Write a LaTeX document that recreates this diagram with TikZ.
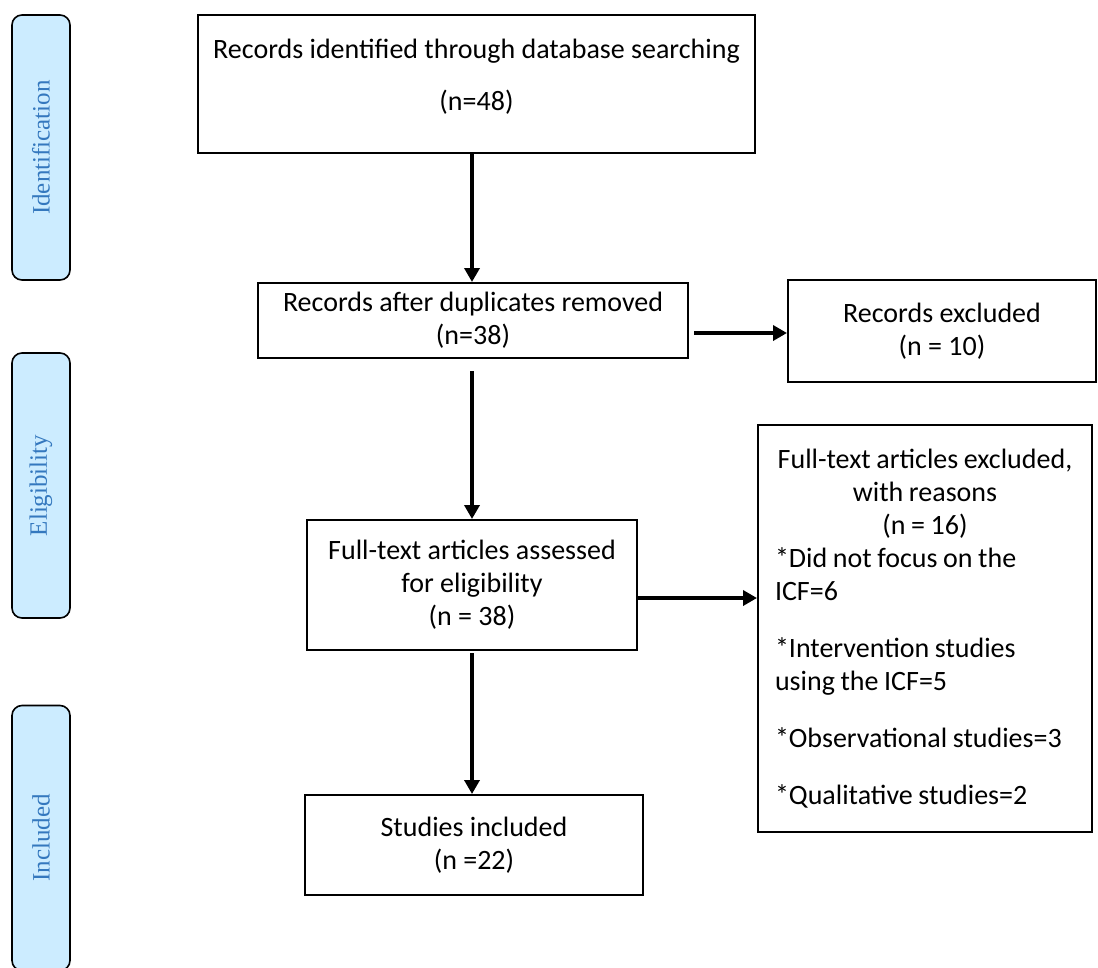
\documentclass[tikz,border=0pt]{standalone}
\usepackage{fontspec}
\setmainfont{Carlito}
\newfontfamily\barfont{Liberation Serif}
\usetikzlibrary{arrows.meta,calc}
\definecolor{barfill}{RGB}{204,236,255}
\definecolor{bartext}{RGB}{52,120,190}
\tikzset{
  flowbox/.style={draw=black, line width=2pt, align=center, inner sep=0pt,
    font=\fontsize{28}{33}\selectfont},
  phasebar/.style={draw=black, line width=1.6pt, fill=barfill, rounded corners=10pt,
    rotate=90, minimum width=265pt, minimum height=58pt, inner sep=0pt,
    text=bartext, font=\barfont\fontsize{25}{30}\selectfont},
  flowarrow/.style={line width=3.5pt, -{Triangle[width=15pt,length=14pt]}},
}
\begin{document}
\begin{tikzpicture}[x=1pt,y=-1pt]
\useasboundingbox (0,0) rectangle (1098,967);
% phase bars
\node[phasebar] (idbar) at (41,147.5) {Identification};
\node[phasebar] (elbar) at (41,485.5) {Eligibility};
\begin{scope}
  \clip (0,0) rectangle (1098,967);
  \node[phasebar] (inbar) at (41,838) {Included};
\end{scope}
% boxes
\node[flowbox, minimum width=557pt, minimum height=138pt] (box1) at (476.5,84)
  {Records identified through database searching\\[19pt](n=48)\\[-14pt]\mbox{}};
\node[flowbox, minimum width=430pt, minimum height=75pt] (box2) at (473,320.5)
  {Records after duplicates removed\\(n=38)};
\node[flowbox, minimum width=308pt, minimum height=102pt] (box3) at (942,331)
  {Records excluded\\(n = 10)};
\node[flowbox, minimum width=330pt, minimum height=130pt] (box5) at (472,585)
  {Full-text articles assessed\\for eligibility\\(n = 38)};
\node[flowbox, minimum width=334pt, minimum height=407pt, text width=300pt, align=left] (box4) at (925,628.5)
  {\spaceskip=5.6pt\relax\xspaceskip=5.6pt\relax
   \centering Full-text articles excluded,\\ with reasons\\ (n = 16)\par
   \raggedright
   *Did not focus on the\\ ICF=6\\[24pt]
   *Intervention studies\\ using the ICF=5\\[24pt]
   *Observational studies=3\\[24pt]
   *Qualitative studies=2\par};
\node[flowbox, minimum width=338pt, minimum height=100pt] (box6) at (474,845)
  {Studies included\\(n =22)};
% connectors
\draw[flowarrow] (box1.south -| box5.north) -- (box5.north |- box2.north);
\coordinate (a2) at ($(box2.east)+(5,12.5)$);
\draw[flowarrow] (a2) -- (box3.west |- a2);
\draw[flowarrow] ([yshift=-12pt]box2.south -| box5.north) -- (box5.north);
\coordinate (a4) at ($(box5.east)+(0,13)$);
\draw[flowarrow] (a4) -- (box4.west |- a4);
\draw[flowarrow] ([yshift=-2pt]box5.south) -- (box6.north -| box5.south);
\end{tikzpicture}
\end{document}
